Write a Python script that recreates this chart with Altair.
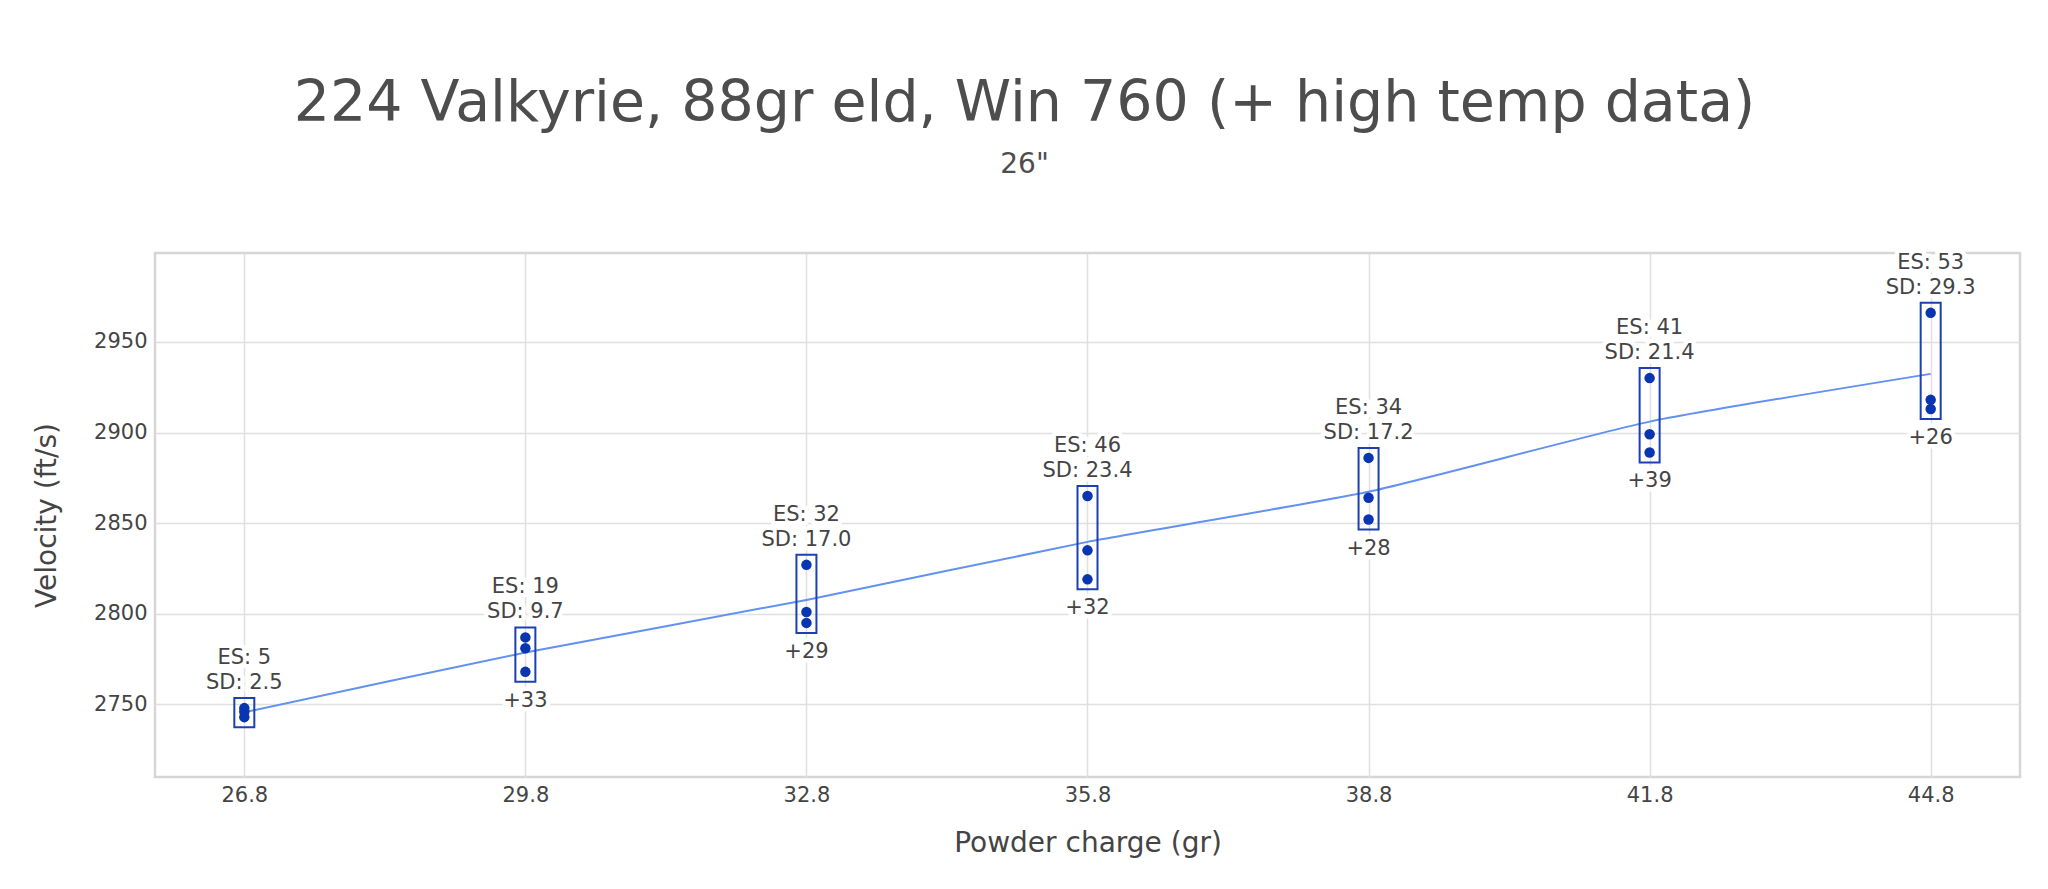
import altair as alt
import pandas as pd

# ---- data ----
charge = [26.8, 29.8, 32.8, 35.8, 38.8, 41.8, 44.8]
shot_1 = [2743, 2768, 2795, 2819, 2852, 2889, 2913]
shot_2 = [2746, 2781, 2801, 2835, 2864, 2899, 2918]
shot_3 = [2748, 2787, 2827, 2865, 2886, 2930, 2966]
es_values = [5, 19, 32, 46, 34, 41, 53]
sd_values = ["2.5", "9.7", "17.0", "23.4", "17.2", "21.4", "29.3"]
delta_labels = ["", "+33", "+29", "+32", "+28", "+39", "+26"]
x_ticks = [26.8, 29.8, 32.8, 35.8, 38.8, 41.8, 44.8]
y_ticks = [2750, 2800, 2850, 2900, 2950]

shots = pd.DataFrame({
    "charge": charge * 3,
    "velocity": shot_1 + shot_2 + shot_3,
})

groups = pd.DataFrame({
    "charge": charge,
    "lo": [min(a, b, c) for a, b, c in zip(shot_1, shot_2, shot_3)],
    "hi": [max(a, b, c) for a, b, c in zip(shot_1, shot_2, shot_3)],
    "mean": [(a + b + c) / 3 for a, b, c in zip(shot_1, shot_2, shot_3)],
    "top_text": [f"ES: {e}\nSD: {s}" for e, s in zip(es_values, sd_values)],
    "bottom_text": delta_labels,
})

FONT = "DejaVu Sans"
TXT = "#444444"
Y_TITLE = "Velocity (ft/s)"

x_enc = alt.X(
    "charge:Q",
    scale=alt.Scale(domain=[25.9, 45.7], nice=False, zero=False),
    axis=alt.Axis(
        values=x_ticks, format=".1f", title="Powder charge (gr)",
        labelPadding=7, titleY=52, titleBaseline="top",
    ),
)
y_scale = alt.Scale(domain=[2710, 2999], nice=False, zero=False)
y_axis = alt.Axis(
    values=y_ticks, format="d", title=Y_TITLE, labelPadding=8,
    titleX=-108, titleY=262, titleAngle=270, titleAlign="center",
    titleBaseline="middle",
)

line = alt.Chart(groups).mark_line(
    interpolate="cardinal", tension=0.5, color="#6391f0", strokeWidth=2
).encode(x=x_enc, y=alt.Y("mean:Q", scale=y_scale, axis=y_axis, title=Y_TITLE))

boxes = alt.Chart(groups).mark_bar(
    size=20, fillOpacity=0, stroke="#1c40b4", strokeWidth=2,
    yOffset=-10, y2Offset=10,
).encode(
    x=x_enc,
    y=alt.Y("hi:Q", scale=y_scale, axis=y_axis, title=Y_TITLE),
    y2="lo:Q",
)

points = alt.Chart(shots).mark_circle(size=110, color="#0a35b0", opacity=1).encode(
    x=x_enc, y=alt.Y("velocity:Q", scale=y_scale, axis=y_axis, title=Y_TITLE)
)

top_common = dict(lineBreak="\n", lineHeight=25, fontSize=21, font=FONT,
                  baseline="bottom", dy=-40, align="center")
top_halo = alt.Chart(groups).mark_text(
    stroke="white", strokeWidth=9, strokeJoin="round", fill="white", **top_common
).encode(x=x_enc, y=alt.Y("hi:Q", scale=y_scale, axis=y_axis, title=Y_TITLE), text="top_text:N")
top_text = alt.Chart(groups).mark_text(fill=TXT, **top_common).encode(
    x=x_enc, y=alt.Y("hi:Q", scale=y_scale, axis=y_axis, title=Y_TITLE), text="top_text:N"
)

bot_common = dict(fontSize=21, font=FONT, baseline="top", dy=18, align="center")
bot_halo = alt.Chart(groups).mark_text(
    stroke="white", strokeWidth=9, strokeJoin="round", fill="white", **bot_common
).encode(x=x_enc, y=alt.Y("lo:Q", scale=y_scale, axis=y_axis, title=Y_TITLE), text="bottom_text:N")
bot_text = alt.Chart(groups).mark_text(fill=TXT, **bot_common).encode(
    x=x_enc, y=alt.Y("lo:Q", scale=y_scale, axis=y_axis, title=Y_TITLE), text="bottom_text:N"
)

chart = alt.layer(
    line, top_halo, bot_halo, boxes, points, top_text, bot_text
).properties(
    width=1865,
    height=524,
    padding={"left": 147, "top": 245, "right": 20, "bottom": 100},
    autosize=alt.AutoSizeParams(type="none"),
    title=alt.TitleParams(
        text="224 Valkyrie, 88gr eld, Win 760 (+ high temp data)",
        subtitle='26"',
        font=FONT, subtitleFont=FONT,
        fontSize=57, subtitleFontSize=28,
        fontWeight="normal", subtitleFontWeight="normal",
        color="#4d4d4d", subtitleColor="#4d4d4d",
        anchor="middle", frame="group", dx=-63,
        offset=72, subtitlePadding=18,
    ),
).configure_view(
    stroke="#d6d6d6", strokeWidth=2.5
).configure_axis(
    grid=True, gridColor="#e0e0e0", gridWidth=1.5,
    domain=False, ticks=False, tickSize=0,
    labelFont=FONT, labelFontSize=21, labelColor=TXT,
    titleFont=FONT, titleFontSize=28, titleColor=TXT, titleFontWeight="normal",
)

chart.save("out.html", embed_options={"renderer": "svg", "actions": False})
